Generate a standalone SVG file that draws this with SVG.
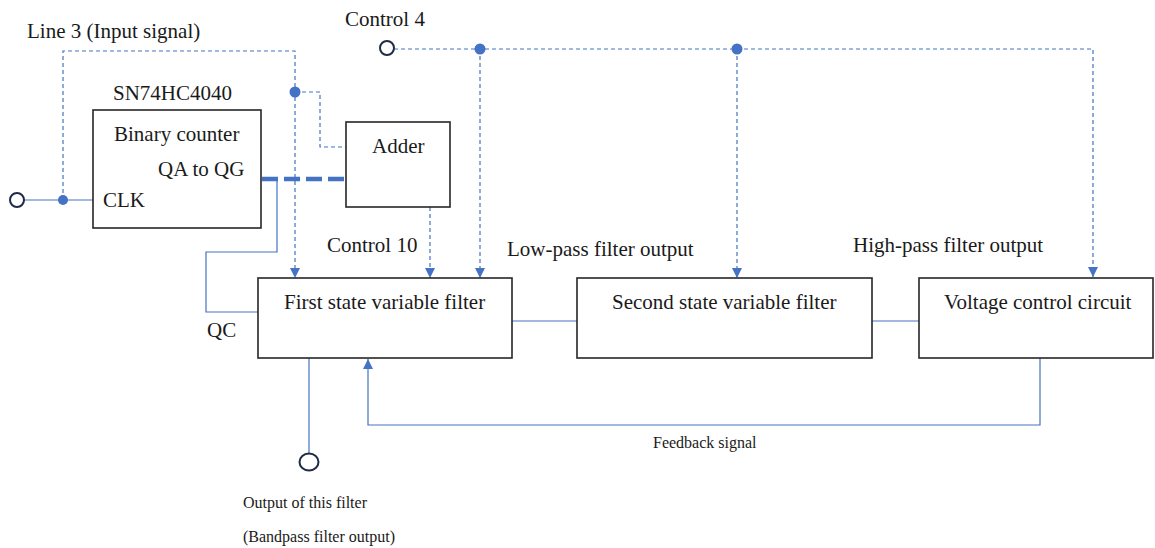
<svg xmlns="http://www.w3.org/2000/svg" width="1155" height="548" viewBox="0 0 1155 548">
<style>
  .box { fill: #ffffff; stroke: #262626; stroke-width: 1.6; }
  .t { font-family: "Liberation Serif", "Times New Roman", serif; font-size: 21px; fill: #1a1a1a; }
  .s { font-family: "Liberation Serif", "Times New Roman", serif; font-size: 16px; fill: #1a1a1a; }
  .ln { fill: none; stroke: #4472C4; stroke-width: 1.2; }
  .dl { fill: none; stroke: #4472C4; stroke-width: 1.2; stroke-dasharray: 4 3; }
  .thick { fill: none; stroke: #4472C4; stroke-width: 4.5; stroke-dasharray: 16 6; }
  .dot { fill: #4472C4; }
  .term { fill: #ffffff; stroke: #1F2A44; stroke-width: 2; }
</style>
<defs>
  <marker id="arr" viewBox="0 0 10 10" markerWidth="10" markerHeight="10" refX="10" refY="5" orient="auto" markerUnits="userSpaceOnUse">
    <path d="M0,0 L10,5 L0,10 z" fill="#4472C4"/>
  </marker>
</defs>
<rect width="1155" height="548" fill="#ffffff"/>

<g id="connectors">
  <!-- Line 3 input signal -->
  <polyline class="dl" points="63,200 63,51 295,51 295,278" marker-end="url(#arr)"/>
  <polyline class="dl" points="295,92 320,92 320,147 346,147"/>
  <!-- CLK input -->
  <line class="ln" x1="24" y1="200" x2="93" y2="200"/>
  <!-- QA to QG bus -->
  <line class="thick" x1="262" y1="179" x2="346" y2="179"/>
  <!-- QC -->
  <polyline class="ln" points="277,179 277,252 206,252 206,312 258,312"/>
  <!-- Adder -> first filter (Control 10) -->
  <line class="dl" x1="430" y1="207" x2="430" y2="278" marker-end="url(#arr)"/>
  <!-- Control 4 -->
  <polyline class="dl" points="394,49 1093,49 1093,277" marker-end="url(#arr)"/>
  <line class="dl" x1="480" y1="49" x2="480" y2="278" marker-end="url(#arr)"/>
  <line class="dl" x1="737" y1="49" x2="737" y2="278" marker-end="url(#arr)"/>
  <!-- filter chain -->
  <line class="ln" x1="512" y1="321" x2="577" y2="321"/>
  <line class="ln" x1="872" y1="321" x2="919" y2="321"/>
  <!-- feedback -->
  <polyline class="ln" points="1040,358 1040,425 368,425 368,359" marker-end="url(#arr)"/>
  <!-- output -->
  <line class="ln" x1="309" y1="358" x2="309" y2="453"/>
  <!-- junction dots -->
  <circle class="dot" cx="63" cy="200" r="5"/>
  <circle class="dot" cx="295" cy="92" r="5.5"/>
  <circle class="dot" cx="480" cy="49" r="5.5"/>
  <circle class="dot" cx="737" cy="49" r="5.5"/>
</g>

<g id="terminal-clk">
  <circle class="term" cx="17" cy="200" r="7"/>
</g>
<g id="terminal-control4">
  <circle class="term" cx="387" cy="48" r="7"/>
  <text class="t" x="345" y="26">Control 4</text>
</g>
<g id="label-line3">
  <text class="t" x="27" y="38">Line 3 (Input signal)</text>
</g>
<g id="counter">
  <text class="t" x="113" y="100">SN74HC4040</text>
  <rect class="box" x="93" y="110" width="168" height="118"/>
  <text class="t" x="114" y="141">Binary counter</text>
  <text class="t" x="158" y="176">QA to QG</text>
  <text class="t" x="103" y="207">CLK</text>
</g>
<g id="adder">
  <rect class="box" x="346" y="122" width="104" height="85"/>
  <text class="t" x="372" y="153">Adder</text>
</g>
<g id="label-control10">
  <text class="t" x="327" y="252">Control 10</text>
</g>
<g id="label-qc">
  <text class="t" x="207" y="337">QC</text>
</g>
<g id="filter1">
  <rect class="box" x="258" y="278" width="254" height="80"/>
  <text class="t" x="284" y="309">First state variable filter</text>
</g>
<g id="label-lowpass">
  <text class="t" x="507" y="256">Low-pass filter output</text>
</g>
<g id="filter2">
  <rect class="box" x="577" y="278" width="295" height="80"/>
  <text class="t" x="612" y="309">Second state variable filter</text>
</g>
<g id="label-highpass">
  <text class="t" x="853" y="252">High-pass filter output</text>
</g>
<g id="voltage-control">
  <rect class="box" x="919" y="278" width="234" height="80"/>
  <text class="t" x="944" y="309">Voltage control circuit</text>
</g>
<g id="label-feedback">
  <text class="s" x="653" y="448">Feedback signal</text>
</g>
<g id="terminal-output">
  <ellipse class="term" cx="309" cy="462" rx="9.5" ry="8.5"/>
  <text class="s" x="243" y="508">Output of this filter</text>
  <text class="s" x="243" y="542">(Bandpass filter output)</text>
</g>
</svg>
